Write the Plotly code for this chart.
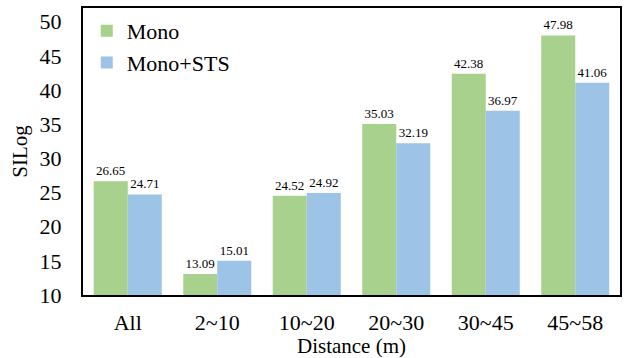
import plotly.graph_objects as go

categories = ["All", "2~10", "10~20", "20~30", "30~45", "45~58"]
mono = [26.65, 13.09, 24.52, 35.03, 42.38, 47.98]
mono_sts = [24.71, 15.01, 24.92, 32.19, 36.97, 41.06]
y_ticks = [10, 15, 20, 25, 30, 35, 40, 45, 50]

FONT = "Times New Roman, serif"

fig = go.Figure()
fig.add_trace(go.Bar(
    x=categories, y=mono, name="Mono",
    marker=dict(color="#a9d18e", line=dict(width=0)),
    text=[f"{v:.2f}" for v in mono], textposition="outside",
    textfont=dict(family=FONT, size=13, color="#000"), cliponaxis=False,
))
fig.add_trace(go.Bar(
    x=categories, y=mono_sts, name="Mono+STS",
    marker=dict(color="#9dc3e6", line=dict(width=0)),
    text=[f"{v:.2f}" for v in mono_sts], textposition="outside",
    textfont=dict(family=FONT, size=13, color="#000"), cliponaxis=False,
))

fig.update_layout(
    width=628, height=358,
    margin=dict(l=83, r=6, t=6, b=63),
    paper_bgcolor="white", plot_bgcolor="white",
    barmode="group", bargap=0.24, bargroupgap=0,
    font=dict(family=FONT, size=22, color="#000"),
    showlegend=True,
    legend=dict(x=0.007, y=0.993, xanchor="left", yanchor="top",
                font=dict(family=FONT, size=22, color="#000"), bgcolor="rgba(0,0,0,0)",
                itemwidth=30, tracegroupgap=6),
    xaxis=dict(
        title=dict(text="Distance (m)", standoff=0, font=dict(family=FONT, size=21, color="#000")),
        showline=True, linecolor="#000", linewidth=2, mirror=True,
        ticks="", tickfont=dict(family=FONT, size=22, color="#000"), ticklabelstandoff=7,
    ),
    yaxis=dict(
        title=dict(text="SILog", standoff=6, font=dict(family=FONT, size=21, color="#000")),
        range=[10, 52], tickvals=y_ticks,
        showline=True, linecolor="#000", linewidth=2, mirror=True,
        showgrid=False, zeroline=False, ticks="",
        tickfont=dict(family=FONT, size=22, color="#000"), ticklabelstandoff=15,
    ),
)

fig.write_html("out.html")
